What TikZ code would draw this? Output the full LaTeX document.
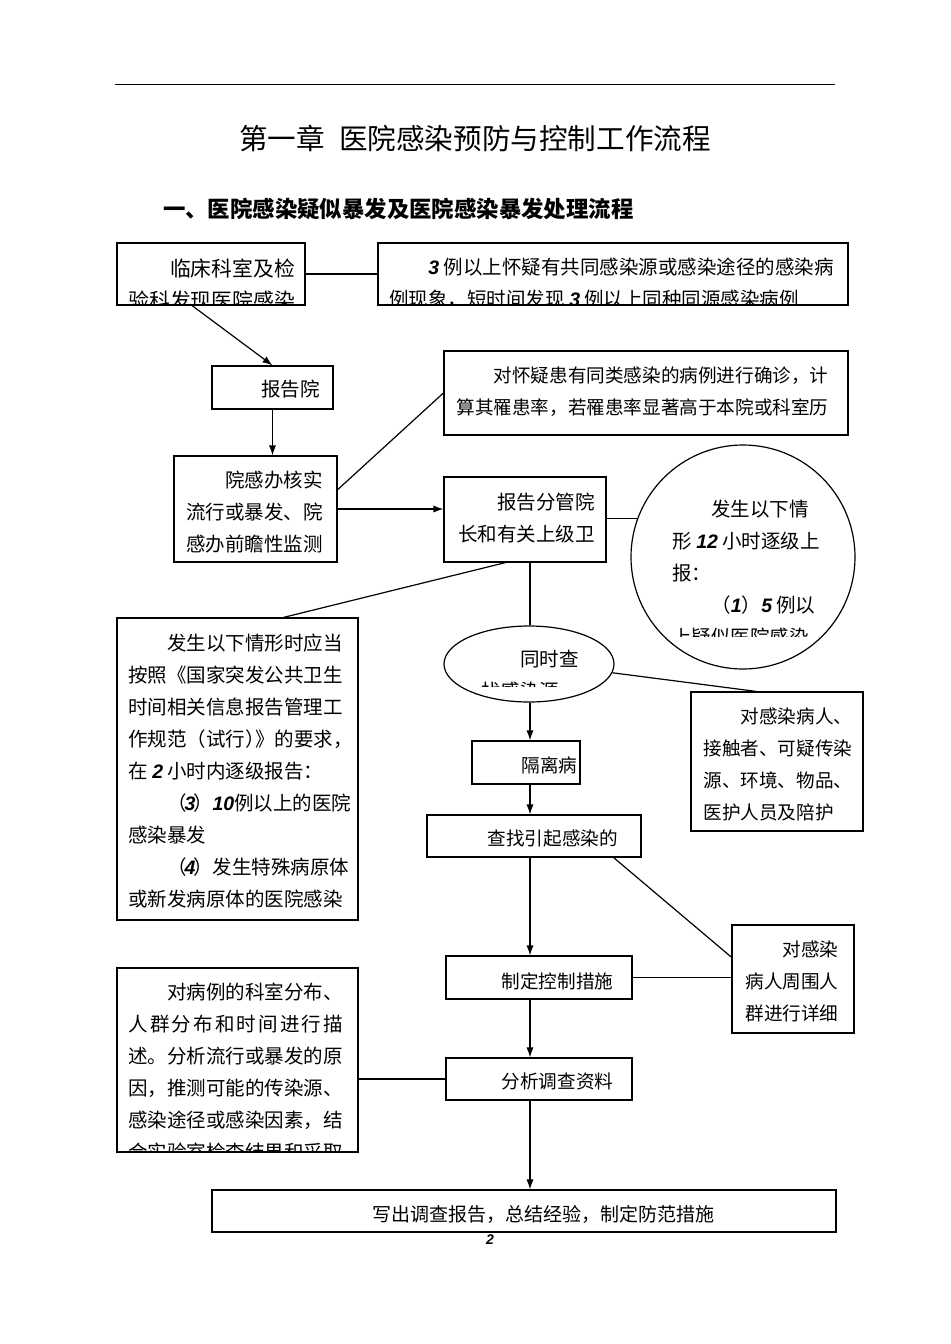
\documentclass[tikz,border=0pt]{standalone}
\usepackage{fontspec}
\setmainfont{Noto Sans CJK SC}
\newfontfamily\numfont{Liberation Sans}
\usetikzlibrary{positioning,calc,fit,shapes.geometric,arrows.meta}
\tikzset{box/.style = {draw, inner sep=0pt, line width=0.6pt},
         txt/.style = {anchor=north west, inner sep=0pt, align=left, font=\fontsize{9.75}{16}\selectfont},
         small/.style = {font=\fontsize{9.3}{16}\selectfont},
         link/.style = {line width=0.6pt},
         flow/.style = {line width=0.6pt, -{Latex[length=5pt,width=3.6pt]}}}
\newcommand{\ndig}[1]{{\numfont\itshape\bfseries #1}}
\newcommand{\itemno}[1]{（\kern-.12em\ndig{#1}\kern-.12em）}
\newcommand{\cliptext}[5][]{%
  \begin{scope}
    \clip #3;
    \node[txt,#1] (#2) at #4 {#5};
  \end{scope}}

\begin{document}
\begin{tikzpicture}[x=0.5pt, y=-0.5pt]
    \useasboundingbox (0,0) rectangle (950,1344);

    % heading
    \draw[line width=0.5pt] (115,84) -- (835,84);
    \node[font=\fontsize{14.3}{16}\selectfont] (title) at (475,138) {第一章\hspace{0.5em}医院感染预防与控制工作流程};
    \node[anchor=west, font=\fontsize{11.2}{14}\selectfont\bfseries] (subtitle) at (156,209) {一、医院感染疑似暴发及医院感染暴发处理流程};

    % boxes
    \node[box, fit={(117,243) (305,305)}] (detect) {};
    \node[box, fit={(378,243) (848,305)}] (cluster) {};
    \node[box, fit={(212,366) (333,409)}] (report) {};
    \node[box, fit={(174,456) (337,562)}] (verify) {};
    \node[box, fit={(444,351) (848,435)}] (confirm) {};
    \node[box, fit={(444,477) (606,562)}] (notify) {};
    \node[box, circle, minimum size=112pt] (alert) at (743,557) {};
    \node[box, fit={(117,618) (358,920)}] (report2h) {};
    \node[box, ellipse, minimum width=85pt, minimum height=38pt] (trace) at (529,664) {};
    \node[box, fit={(691,692) (863,831)}] (contacts) {};
    \node[box, fit={(472,741) (580,784)}] (isolate) {};
    \node[box, fit={(427,815) (641,857)}] (source) {};
    \node[box, fit={(732,925) (854,1033)}] (crowd) {};
    \node[box, fit={(446,956) (632,999)}] (measures) {};
    \node[box, fit={(117,968) (358,1152)}] (describe) {};
    \node[box, fit={(446,1058) (632,1100)}] (analyse) {};
    \node[box, fit={(212,1190) (836,1232)}] (summary) {};

    % texts
    \cliptext[font=\fontsize{10.4}{16}\selectfont]{detect-t}{(detect.north west) rectangle (detect.south east)}{(128,258)}
        {\hspace*{2em}临床科室及检\\验科发现医院感染};
    \cliptext{cluster-t}{(cluster.north west) rectangle (cluster.south east)}{(389,258)}
        {\hspace*{2em}\ndig{3} 例以上怀疑有共同感染源或感染途径的感染病\\例现象，短时间发现 \ndig{3} 例以上同种同源感染病例};
    \cliptext{report-t}{(report.north west) rectangle (report.south east)}{(222,380)}
        {\hspace*{2em}报告院};
    \cliptext{verify-t}{(verify.north west) rectangle (verify.south east)}{(186,471)}
        {\hspace*{2em}院感办核实\\流行或暴发、院\\感办前瞻性监测};
    \cliptext[small]{confirm-t}{(confirm.north west) rectangle (confirm.south east)}{(456,366)}
        {\hspace*{2em}对怀疑患有同类感染的病例进行确诊，计\\算其罹患率，若罹患率显著高于本院或科室历};
    \cliptext{notify-t}{(notify.north west) rectangle (notify.south east)}{(458,493)}
        {\hspace*{2em}报告分管院\\长和有关上级卫};
    \cliptext{alert-t}{(665,488) rectangle (822,636)}{(672,500)}
        {\hspace*{2em}发生以下情\\形 \ndig{12} 小时逐级上\\报：\\\hspace*{2em}（\ndig{1}）\ndig{5} 例以\\上疑似医院感染};
    \cliptext{report2h-t}{(report2h.north west) rectangle (report2h.south east)}{(128,634)}
        {\hspace*{2em}发生以下情形时应当\\按照《国家突发公共卫生\\时间相关信息报告管理工\\作规范（试行）\kern-.5em》的要求，\\在 \ndig{2} 小时内逐级报告：\\\hspace*{2em}\itemno{3}\ndig{10}例以上的医院\\感染暴发\\\hspace*{2em}\itemno{4}发生特殊病原体\\或新发病原体的医院感染};
    \cliptext{trace-t}{(470,640) rectangle (600,686)}{(481,650)}
        {\hspace*{2em}同时查\\找感染源};
    \cliptext[small]{contacts-t}{(contacts.north west) rectangle (contacts.south east)}{(703,707)}
        {\hspace*{2em}对感染病人、\\接触者、可疑传染\\源、环境、物品、\\医护人员及陪护};
    \cliptext[small]{isolate-t}{(isolate.north west) rectangle (isolate.south east)}{(484,756)}
        {\hspace*{2em}隔离病};
    \cliptext[small]{source-t}{(source.north west) rectangle (source.south east)}{(450,829)}
        {\hspace*{2em}查找引起感染的};
    \cliptext[small]{crowd-t}{(crowd.north west) rectangle (crowd.south east)}{(745,940)}
        {\hspace*{2em}对感染\\病人周围人\\群进行详细};
    \cliptext[small]{measures-t}{(measures.north west) rectangle (measures.south east)}{(464,972)}
        {\hspace*{2em}制定控制措施};
    \cliptext{describe-t}{(describe.north west) rectangle (describe.south east)}{(128,983)}
        {\hspace*{2em}对病例的科室分布、\\\makebox[11em][s]{人\hfil 群\hfil 分\hfil 布\hfil 和\hfil 时\hfil 间\hfil 进\hfil 行\hfil 描}\\述。分析流行或暴发的原\\因，推测可能的传染源、\\感染途径或感染因素，结\\合实验室检查结果和采取};
    \cliptext[small]{analyse-t}{(analyse.north west) rectangle (analyse.south east)}{(464,1072)}
        {\hspace*{2em}分析调查资料};
    \cliptext[font=\fontsize{9.5}{16}\selectfont]{summary-t}{(summary.north west) rectangle (summary.south east)}{(372,1205)}
        {写出调查报告，总结经验，制定防范措施};

    \node[font=\fontsize{7}{8}\selectfont] (page) at (490,1240) {\ndig{2}};

    % connectors
    \coordinate (axis) at (530,0);
    \draw[link] (detect.east) -- (detect.east -| cluster.west);
    \draw[flow] ($(detect.south west)!0.4!(detect.south east)$) -- (report.north);
    \draw[flow] (report.south) -- (report.south |- verify.north);
    \draw[link] ($(verify.north east)!0.32!(verify.south east)$) -- (confirm.west);
    \draw[flow] (verify.east) -- (verify.east -| notify.west);
    \draw[link] (notify.east |- alert.160) -- (alert.160);
    \draw[link] ($(notify.south west)!0.38!(notify.south east)$) -- ($(report2h.north west)!0.69!(report2h.north east)$);
    \draw[link] (axis |- notify.south) -- (axis |- trace.north);
    \draw[link] (trace.-6) -- ($(contacts.north west)!0.38!(contacts.north east)$);
    \draw[flow] (axis |- trace.south) -- (axis |- isolate.north);
    \draw[flow] (axis |- isolate.south) -- (axis |- source.north);
    \draw[link] ($(source.south west)!0.87!(source.south east)$) -- ($(crowd.north west)!0.3!(crowd.south west)$);
    \draw[flow] (axis |- source.south) -- (axis |- measures.north);
    \draw[link] (measures.east) -- (measures.east -| crowd.west);
    \draw[flow] (axis |- measures.south) -- (axis |- analyse.north);
    \draw[link] (analyse.west -| describe.east) -- (analyse.west);
    \draw[flow] (axis |- analyse.south) -- (axis |- summary.north);
\end{tikzpicture}
\end{document}
